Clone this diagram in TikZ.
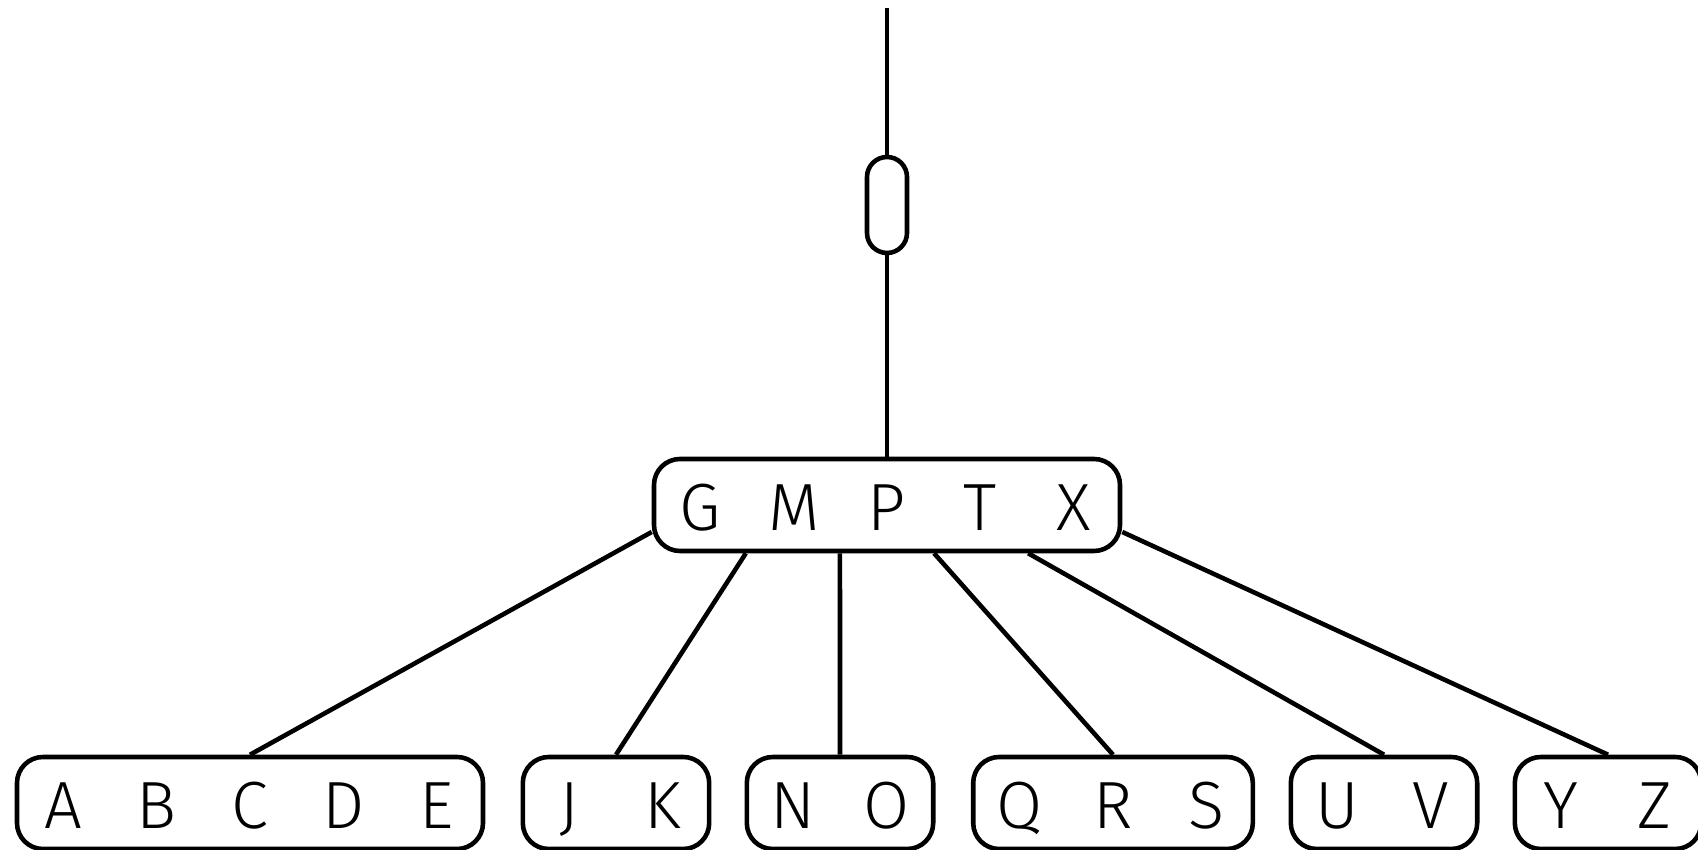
\documentclass[tikz,border=0pt]{standalone}
\usepackage{fontspec}
\setmainfont{Fira Sans}[UprightFont=* Light]
\usetikzlibrary{calc}
\newcommand{\keycell}[1]{\makebox[0.932cm]{#1}}
\begin{document}
\begin{tikzpicture}[font=\fontsize{19}{22}\selectfont, line width=1.3pt,
  bnode/.style={draw, rounded corners=0.26cm, inner sep=0pt, minimum height=0.92cm, text height=0.52cm, text depth=0cm},
  link/.style={draw, line width=1.3pt}]
\useasboundingbox (0,0) rectangle (16.98,-8.50);
% root and the pointer above it
\coordinate (top) at (8.87,-0.08);
\node[draw, rounded corners=0.2cm, minimum width=0.40cm, minimum height=0.96cm, inner sep=0pt] (cap) at (8.87,-2.05) {};
\node[bnode] (root) at (8.87,-5.05) {\keycell{G}\keycell{M}\keycell{P}\keycell{T}\keycell{X}};
\draw[link] (top) -- (cap.north);
\draw[link] (cap.south) -- (root.north);
% leaves
\node[bnode] (l1) at (2.50,-8.03) {\keycell{A}\keycell{B}\keycell{C}\keycell{D}\keycell{E}};
\node[bnode] (l2) at (6.16,-8.03) {\keycell{J}\keycell{K}};
\node[bnode] (l3) at (8.40,-8.03) {\keycell{N}\keycell{O}};
\node[bnode] (l4) at (11.13,-8.03) {\keycell{Q}\keycell{R}\keycell{S}};
\node[bnode] (l5) at (13.84,-8.03) {\keycell{U}\keycell{V}};
\node[bnode] (l6) at (16.08,-8.03) {\keycell{Y}\keycell{Z}};
% child pointers
\coordinate (p0) at ([yshift=-0.27cm]root.west);
\coordinate (p5) at ([yshift=-0.27cm]root.east);
\foreach \i in {1,...,4} {\coordinate (p\i) at ($(root.south west)!\i/5!(root.south east)$);}
\foreach \p/\l in {p0/l1, p1/l2, p2/l3, p3/l4, p4/l5, p5/l6} {\draw[link] (\p) -- (\l.north);}
\end{tikzpicture}
\end{document}
